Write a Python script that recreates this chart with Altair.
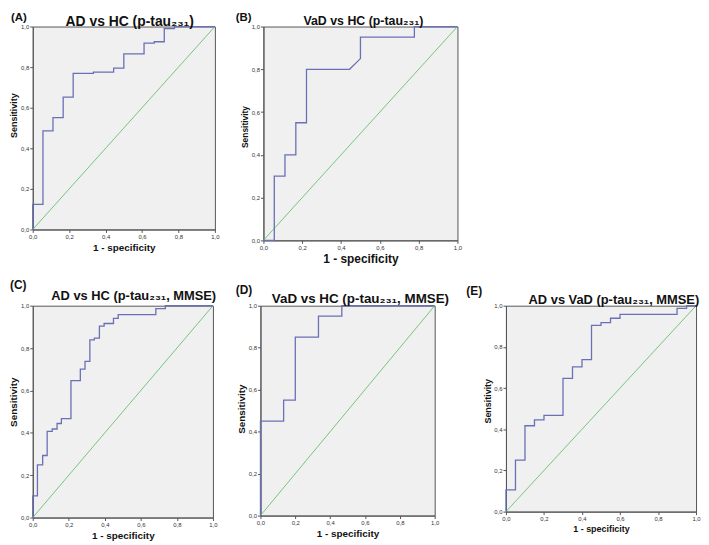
import altair as alt
import pandas as pd

# ---------------- data ----------------
TICKS = [0.0, 0.2, 0.4, 0.6, 0.8, 1.0]
DIAG_X = [0.0, 1.0]
DIAG_Y = [0.0, 1.0]

LETTERS = ["(A)", "(B)", "(C)", "(D)", "(E)"]
TITLES = [
    "AD vs HC (p-tau\u2082\u2083\u2081)",
    "VaD vs HC (p-tau\u2082\u2083\u2081)",
    "AD vs HC (p-tau\u2082\u2083\u2081, MMSE)",
    "VaD vs HC (p-tau\u2082\u2083\u2081, MMSE)",
    "AD vs VaD (p-tau\u2082\u2083\u2081, MMSE)",
]

A_FPR = [0, 0, 0.056, 0.056, 0.111, 0.111, 0.167, 0.167, 0.222, 0.222, 0.333, 0.333,
         0.444, 0.444, 0.5, 0.5, 0.611, 0.611, 0.667, 0.667, 0.722, 0.722, 0.778, 0.778, 1.0]
A_TPR = [0, 0.124, 0.124, 0.486, 0.486, 0.551, 0.551, 0.652, 0.652, 0.769, 0.769, 0.775,
         0.775, 0.795, 0.795, 0.865, 0.865, 0.918, 0.918, 0.925, 0.925, 0.99, 0.99, 1.0, 1.0]

B_FPR = [0, 0.056, 0.056, 0.111, 0.111, 0.167, 0.167, 0.222, 0.222, 0.444, 0.5, 0.5,
         0.778, 0.778, 1.0]
B_TPR = [0, 0, 0.30, 0.30, 0.40, 0.40, 0.55, 0.55, 0.80, 0.80, 0.85, 0.95,
         0.95, 1.0, 1.0]

C_FPR = [0, 0, 0.026, 0.026, 0.055, 0.055, 0.080, 0.080, 0.108, 0.108, 0.135, 0.135,
         0.159, 0.159, 0.212, 0.212, 0.264, 0.264, 0.290, 0.290, 0.317, 0.317, 0.342,
         0.342, 0.370, 0.370, 0.396, 0.396, 0.448, 0.448, 0.474, 0.474, 0.683, 0.683,
         0.736, 0.736, 1.0]
C_TPR = [0, 0.102, 0.102, 0.249, 0.249, 0.293, 0.293, 0.407, 0.407, 0.418, 0.418, 0.444,
         0.444, 0.467, 0.467, 0.646, 0.646, 0.701, 0.701, 0.737, 0.737, 0.839, 0.839,
         0.847, 0.847, 0.904, 0.904, 0.916, 0.916, 0.94, 0.94, 0.958, 0.958, 0.986,
         0.986, 1.0, 1.0]

D_FPR = [0, 0, 0.133, 0.133, 0.2, 0.2, 0.333, 0.333, 0.467, 0.467, 1.0]
D_TPR = [0, 0.45, 0.45, 0.55, 0.55, 0.85, 0.85, 0.95, 0.95, 1.0, 1.0]

E_FPR = [0, 0, 0.05, 0.05, 0.1, 0.1, 0.15, 0.15, 0.2, 0.2, 0.3, 0.3, 0.35, 0.35, 0.4, 0.4,
         0.45, 0.45, 0.5, 0.5, 0.55, 0.55, 0.6, 0.6, 0.9, 0.9, 0.95, 0.95, 1.0]
E_TPR = [0, 0.106, 0.106, 0.25, 0.25, 0.417, 0.417, 0.446, 0.446, 0.467, 0.467, 0.647,
         0.647, 0.703, 0.703, 0.738, 0.738, 0.904, 0.904, 0.918, 0.918, 0.939, 0.939,
         0.958, 0.958, 0.987, 0.987, 1.0, 1.0]

CURVES = [(A_FPR, A_TPR), (B_FPR, B_TPR), (C_FPR, C_TPR), (D_FPR, D_TPR), (E_FPR, E_TPR)]

# ---------------- style / layout ----------------
BLUE = "#6870b6"
GREEN = "#74c47e"
AXIS_COL = "#555555"
FONT = "Liberation Sans"
LABEL_EXPR = "replace(format(datum.value, '.1f'), '.', ',')"

# per panel: plot w/h, cell extents L/R/B, title size, title dx (from plot centre),
# title baseline y, x-title size, y-title size, y-title shift up, letter size/offset
LAYOUT = [
    dict(w=184, h=205, L=24, R=14, B=48, ts=14, tdx=6, ty=-1, xs=10, ys=9, yshift=13,
         fs=11.5, lx=-22, ly=-15),
    dict(w=196, h=216, L=33, R=11, B=37, ts=12.5, tdx=3, ty=-2, xs=12, ys=8.5, yshift=7,
         fs=11.5, lx=-28, ly=-15),
    dict(w=182, h=214, L=24, R=14, B=24, ts=13, tdx=11, ty=-6, xs=10, ys=10, yshift=10,
         fs=12, lx=-23, ly=-26),
    dict(w=176, h=212, L=32, R=14, B=24, ts=13.5, tdx=13, ty=-3, xs=10, ys=10, yshift=2,
         fs=12, lx=-25, ly=-21),
    dict(w=192, h=208, L=55, R=4, B=24, ts=13, tdx=13, ty=-2, xs=9, ys=9, yshift=8,
         fs=12, lx=-40, ly=-20),
]


def panel(i):
    fpr, tpr = CURVES[i]
    cfg = LAYOUT[i]
    roc = pd.DataFrame({"x": fpr, "y": tpr, "k": list(range(len(fpr)))})
    diag = pd.DataFrame({"x": DIAG_X, "y": DIAG_Y, "k": [0, 1]})
    one = pd.DataFrame({"t": [LETTERS[i]], "title": [TITLES[i]]})

    xs = alt.Scale(domain=[0, 1], nice=False, zero=False)
    ys = alt.Scale(domain=[0, 1], nice=False, zero=False)
    common = dict(values=TICKS, labelExpr=LABEL_EXPR, grid=False, titleFont=FONT,
                  titleFontWeight="bold", titleColor="#111", labelFont=FONT, labelFontSize=6,
                  labelColor="#333", labelPadding=1, labelFlush=False, labelOverlap=False,
                  labelBound=False, tickSize=3, tickColor=AXIS_COL, domainColor=AXIS_COL)
    xax = alt.Axis(title="1 - specificity", titleFontSize=cfg["xs"], titlePadding=3, **common)
    yax = alt.Axis(title="Sensitivity", titleFontSize=cfg["ys"], titlePadding=2,
                   titleX=-14, titleY=cfg["h"] / 2 - cfg["yshift"], **common)

    enc = dict(x=alt.X("x:Q", scale=xs, axis=xax), y=alt.Y("y:Q", scale=ys, axis=yax),
               order="k:Q")
    d = alt.Chart(diag).mark_line(color=GREEN, strokeWidth=1).encode(**enc)
    r = alt.Chart(roc).mark_line(color=BLUE, strokeWidth=1.3).encode(**enc)
    letter = alt.Chart(one).mark_text(font=FONT, fontSize=cfg["fs"], fontWeight="bold",
                                      align="left", baseline="top", color="#111").encode(
        x=alt.value(cfg["lx"]), y=alt.value(cfg["ly"]), text="t:N")
    title = alt.Chart(one).mark_text(font=FONT, fontSize=cfg["ts"], fontWeight="bold",
                                     align="center", baseline="alphabetic", color="#111").encode(
        x=alt.value(cfg["w"] / 2 + cfg["tdx"]), y=alt.value(cfg["ty"]), text="title:N")
    ext = alt.Chart(one).mark_rule(strokeOpacity=0).encode(
        x=alt.value(-cfg["L"]), x2=alt.value(cfg["w"] + cfg["R"]), y=alt.value(cfg["h"] + cfg["B"]))

    return alt.layer(d, r, letter, title, ext).properties(width=cfg["w"], height=cfg["h"])


row1 = alt.hconcat(panel(0), panel(1), spacing=0)
row2 = alt.hconcat(panel(2), panel(3), panel(4), spacing=0)
chart = alt.vconcat(row1, row2, spacing=0).properties(padding=0, background="white").configure_view(
    fill="#f0f0f0", stroke=AXIS_COL, strokeWidth=1)

chart.save("out.html", embed_options={"renderer": "svg", "actions": False})
